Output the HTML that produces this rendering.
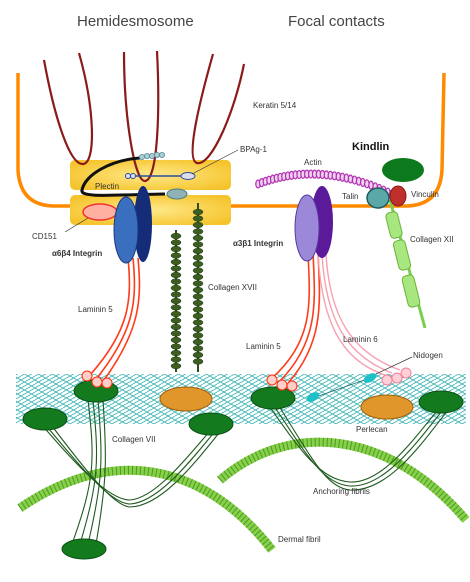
<!DOCTYPE html>
<html><head><meta charset="utf-8"><style>
html,body{margin:0;padding:0;background:#fff}
svg{display:block}
text{font-family:"Liberation Sans",sans-serif;fill:#333;font-size:8px}
.t{font-size:15px;fill:#444}
</style></head><body>
<svg width="470" height="582" viewBox="0 0 470 582">
<defs>
<pattern id="mesh" width="14" height="8" patternUnits="userSpaceOnUse">
<path d="M0 0 L14 8 M0 8 L14 0 M0 4 L7 0 M7 8 L14 4" stroke="#3bb3b3" stroke-width="0.8" fill="none"/>
</pattern>
<radialGradient id="gy" cx="50%" cy="50%" r="60%"><stop offset="0" stop-color="#ffe98a"/><stop offset="1" stop-color="#f5c42c"/></radialGradient>
</defs>
<text class="t" x="77" y="26">Hemidesmosome</text>
<text class="t" x="288" y="26">Focal contacts</text>

<!-- basement membrane mesh -->
<rect x="16" y="374" width="450" height="50" fill="url(#mesh)"/>

<!-- membrane -->
<path d="M18 73 L18 170 Q20 206 55 206 L405 206 Q440 206 442 170 L444 73" stroke="#ff8a00" stroke-width="3.5" fill="none"/>

<!-- plaques -->
<rect x="70" y="160" width="161" height="30" rx="5" fill="url(#gy)"/>
<rect x="70" y="195" width="161" height="30" rx="5" fill="url(#gy)"/>

<!-- keratin -->
<g stroke="#8b1a1a" stroke-width="2.2" fill="none">
<path d="M44 60 C55 120 70 165 83 164 C96 163 95 110 79 53"/>
<path d="M124 52 C124 120 135 182 145 181 C158 180 160 110 157 51"/>
<path d="M213 54 C200 100 185 160 197 163 C212 166 235 110 244 64"/>
</g>
<text x="253" y="108">Keratin 5/14</text>

<!-- plectin -->
<path d="M140 158 C110 160 85 175 82 190 C80 198 110 195 165 194" stroke="#111" stroke-width="3" fill="none"/>
<g fill="#a9cfd6" stroke="#5a8a94" stroke-width="0.8">
<circle cx="142" cy="157" r="2.6"/><circle cx="147" cy="156" r="2.6"/><circle cx="152" cy="156" r="2.6"/><circle cx="157" cy="155" r="2.6"/><circle cx="162" cy="155" r="2.6"/>
</g>
<text x="95" y="189">Plectin</text>
<path d="M128 176 L188 176" stroke="#2b4c9c" stroke-width="1.5"/>
<circle cx="128" cy="176" r="2.5" fill="#dde" stroke="#2b4c9c"/><circle cx="133" cy="176" r="2.5" fill="#dde" stroke="#2b4c9c"/>
<ellipse cx="188" cy="176" rx="7" ry="3.5" fill="#dde" stroke="#2b4c9c"/>
<path d="M192 174 L238 150" stroke="#333" stroke-width="0.7"/>
<text x="240" y="152">BPAg-1</text>
<ellipse cx="177" cy="194" rx="10" ry="5" fill="#8fb3b5" stroke="#4d7a7d"/>

<!-- CD151 -->
<ellipse cx="100" cy="212" rx="17" ry="8" fill="#ffb0a0" stroke="#e33" stroke-width="1.5"/>
<path d="M88 218 L65 232" stroke="#333" stroke-width="0.7"/>
<text x="32" y="239">CD151</text>

<!-- laminin 5 left -->
<g stroke="#ff3b1a" stroke-width="1.6" fill="none">
<path d="M128 258 C132 300 130 330 90 375"/><path d="M133 258 C137 300 135 330 97 378"/><path d="M138 258 C142 300 140 330 104 380"/>
</g>
<!-- integrin a6b4 -->
<ellipse cx="143" cy="224" rx="9" ry="38" fill="#152c78"/>
<ellipse cx="126" cy="230" rx="12" ry="33" fill="#3a6fc0" stroke="#1c3a80"/>
<text x="52" y="256" style="font-weight:bold">α6β4 Integrin</text>
<text x="78" y="312">Laminin 5</text>

<!-- collagen XVII chains -->
<g>
<line x1="176" y1="230" x2="176" y2="372" stroke="#2e4d1a" stroke-width="2"/>
<line x1="198" y1="203" x2="198" y2="372" stroke="#2e4d1a" stroke-width="2"/>
<g fill="#3d5e22" stroke="#1f3a0e" stroke-width="0.5" id="beads"></g>
</g>
<text x="208" y="290">Collagen XVII</text>

<!-- actin -->
<g id="actin"></g>
<text x="304" y="165">Actin</text>
<!-- laminin 5/6 right -->
<g stroke="#ff3b1a" stroke-width="1.6" fill="none">
<path d="M308 252 C310 300 315 340 272 378"/><path d="M313 252 C315 300 320 340 280 381"/><path d="M318 252 C320 300 325 340 289 382"/>
</g>
<g stroke="#f7a0b0" stroke-width="1.4" fill="none">
<path d="M318 255 C322 320 340 360 385 375"/><path d="M322 255 C326 318 345 355 392 373"/><path d="M326 255 C330 315 350 352 400 370"/>
</g>
<g fill="#ffd0d8" stroke="#f08098">
<circle cx="387" cy="380" r="5"/><circle cx="397" cy="378" r="5"/><circle cx="406" cy="373" r="5"/>
</g>
<ellipse cx="322" cy="222" rx="11" ry="36" fill="#5a1a9a"/>
<ellipse cx="307" cy="228" rx="12" ry="33" fill="#9c88d8" stroke="#5a3a9a"/>
<text x="233" y="246" style="font-weight:bold">α3β1 Integrin</text>
<text x="343" y="342">Laminin 6</text>
<text x="246" y="349">Laminin 5</text>

<!-- kindlin / talin / vinculin / collagen XII -->
<text x="352" y="150" style="font-weight:bold;font-size:11px;fill:#111">Kindlin</text>
<ellipse cx="403" cy="170" rx="21" ry="12" fill="#0c7a1c"/>
<g>
<line x1="390" y1="200" x2="425" y2="328" stroke="#7ccf4c" stroke-width="3"/>
<rect x="388" y="212" width="12" height="26" rx="4" fill="#a8e680" stroke="#6ab33c" transform="rotate(-14 394 225)"/>
<rect x="396" y="240" width="12" height="30" rx="4" fill="#a8e680" stroke="#6ab33c" transform="rotate(-14 402 255)"/>
<rect x="405" y="275" width="12" height="32" rx="4" fill="#a8e680" stroke="#6ab33c" transform="rotate(-14 411 291)"/>
</g>
<text x="410" y="242">Collagen XII</text>
<ellipse cx="378" cy="198" rx="11" ry="10" fill="#5aa8a8" stroke="#205a60" stroke-width="1.5"/>
<ellipse cx="398" cy="196" rx="8" ry="10" fill="#c0302a" stroke="#8a1a1a"/>
<text x="342" y="199">Talin</text>
<text x="411" y="197">Vinculin</text>

<!-- dermal fibrils -->
<path id="df1" d="M20 508 C120 440 210 470 272 550" stroke="#86d04a" stroke-width="9" fill="none"/>
<path id="df2" d="M220 480 C290 420 390 430 466 520" stroke="#86d04a" stroke-width="9" fill="none"/>
<path d="M20 508 C120 440 210 470 272 550 M220 480 C290 420 390 430 466 520" stroke="#4f9a24" stroke-width="9" stroke-dasharray="1 3" fill="none"/>

<!-- anchoring fibrils -->
<g stroke="#1f5a1f" stroke-width="1.1" fill="none">
<path d="M36 418 C80 470 110 500 130 500 C160 498 200 440 220 420"/>
<path d="M40 418 C84 472 112 504 130 504 C164 502 204 442 225 420"/>
<path d="M46 418 C88 474 114 506 130 507 C168 506 208 444 230 420"/>
<path d="M88 400 C95 460 95 480 72 544"/><path d="M93 400 C99 460 99 480 80 544"/><path d="M98 400 C103 460 103 480 88 544"/><path d="M103 400 C107 460 107 480 96 544"/>
<path d="M265 400 C300 450 320 480 350 482 C385 484 420 430 442 405"/>
<path d="M270 400 C305 452 322 484 350 486 C388 488 424 432 447 405"/>
<path d="M275 400 C310 454 325 488 350 490 C392 492 428 434 452 405"/>
</g>
<g fill="#137a1e" stroke="#0b4f12">
<ellipse cx="96" cy="391" rx="22" ry="11"/><ellipse cx="45" cy="419" rx="22" ry="11"/><ellipse cx="211" cy="424" rx="22" ry="11"/>
<ellipse cx="84" cy="549" rx="22" ry="10"/><ellipse cx="273" cy="398" rx="22" ry="11"/><ellipse cx="441" cy="402" rx="22" ry="11"/>
</g>
<g fill="#ffd0c8" stroke="#ff2a10">
<circle cx="87" cy="376" r="5"/><circle cx="97" cy="382" r="5"/><circle cx="107" cy="383" r="5"/>
<circle cx="272" cy="380" r="5"/><circle cx="282" cy="385" r="5"/><circle cx="292" cy="386" r="5"/>
</g>
<ellipse cx="186" cy="399" rx="26" ry="12" fill="#e0962a" stroke="#9a6210"/>
<ellipse cx="387" cy="407" rx="26" ry="12" fill="#e0962a" stroke="#9a6210"/>
<path d="M313 398 L370 378" stroke="#2a6a6a" stroke-width="0.8"/>
<ellipse cx="313" cy="397" rx="7" ry="4" fill="#20c0c8" transform="rotate(-30 313 397)"/>
<ellipse cx="370" cy="378" rx="7" ry="4" fill="#20c0c8" transform="rotate(-30 370 378)"/>
<path d="M376 374 L412 357" stroke="#333" stroke-width="0.7"/>
<text x="413" y="358">Nidogen</text>
<text x="356" y="432">Perlecan</text>
<text x="112" y="442">Collagen VII</text>
<text x="313" y="494">Anchoring fibrils</text>
<text x="278" y="542">Dermal fibril</text>
</svg>
<script>
var ns="http://www.w3.org/2000/svg";
var bg=document.getElementById('beads');
[[176,236],[198,212]].forEach(function(c){
 for(var y=c[1];y<=366;y+=6.5){
  var e=document.createElementNS(ns,'ellipse');
  
  
  e.setAttribute('cx',c[0]);e.setAttribute('cy',y);e.setAttribute('rx',5);e.setAttribute('ry',2.8);
  bg.appendChild(e);
 }
});
var ag=document.getElementById('actin');
for(var i=0;i<=34;i++){
 var t=i/34,x=(1-t)*(1-t)*258+2*t*(1-t)*320+t*t*392,y=(1-t)*(1-t)*184+2*t*(1-t)*160+t*t*194;
 var e=document.createElementNS(ns,'ellipse');
 
 
 e.setAttribute('cx',x);e.setAttribute('cy',y);e.setAttribute('rx',2.2);e.setAttribute('ry',4);
 e.setAttribute('fill','#f0d0f0');e.setAttribute('stroke','#b030b0');e.setAttribute('stroke-width','1.2');
 ag.appendChild(e);
}
</script>
</body></html>
